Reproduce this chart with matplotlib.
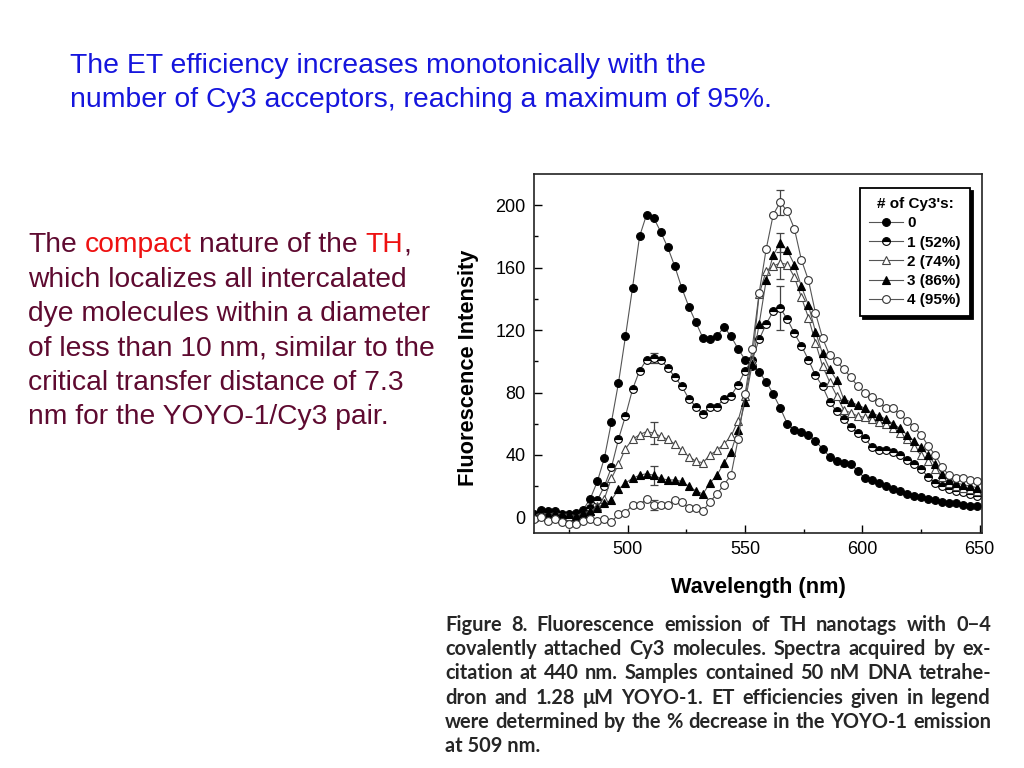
import matplotlib
matplotlib.use("Agg")
import matplotlib.pyplot as plt

# ---------------- data ----------------
wavelength = [460, 463, 466, 469, 472, 475, 478, 481, 484, 487, 490, 493, 496, 499, 502, 505,
              508, 511, 514, 517, 520, 523, 526, 529, 532, 535, 538, 541, 544, 547, 550, 553,
              556, 559, 562, 565, 568, 571, 574, 577, 580, 583, 586, 589, 592, 595, 598, 601,
              604, 607, 610, 613, 616, 619, 622, 625, 628, 631, 634, 637, 640, 643, 646, 649]

cy3_0 = [2, 5, 4, 4, 2, 1, 3, 5, 12, 23, 38, 61, 86, 116, 147, 180,
         194, 192, 183, 173, 161, 147, 135, 125, 115, 114, 116, 122, 116, 108, 101, 97,
         93, 87, 79, 70, 60, 56, 55, 53, 49, 44, 39, 36, 35, 34, 30, 25,
         24, 22, 20, 18, 17, 15, 14, 13, 12, 11, 10, 9, 9, 8, 7, 7]

cy3_1 = [1, 3, 2, 3, 1, 2, 1, 3, 6, 11, 20, 32, 50, 65, 82, 94,
         101, 102, 101, 96, 90, 84, 76, 71, 66, 71, 71, 76, 78, 85, 94, 101,
         114, 124, 132, 134, 127, 118, 110, 101, 91, 84, 74, 68, 63, 58, 54, 51,
         45, 43, 43, 42, 40, 37, 34, 31, 26, 22, 20, 18, 17, 16, 15, 14]

cy3_2 = [0, 2, 1, 2, 0, 1, 0, 2, 4, 7, 12, 25, 34, 44, 50, 53,
         55, 54, 52, 50, 47, 43, 39, 36, 35, 40, 43, 47, 52, 62, 78, 100,
         143, 158, 161, 163, 162, 154, 141, 128, 112, 97, 87, 78, 69, 67, 65, 64,
         63, 61, 60, 57, 54, 50, 45, 40, 36, 31, 26, 22, 20, 19, 18, 17]

cy3_3 = [1, 3, 2, 3, 2, 2, 1, 3, 4, 6, 9, 11, 18, 22, 25, 27,
         28, 27, 25, 24, 24, 23, 20, 17, 15, 22, 27, 35, 42, 56, 74, 98,
         124, 152, 168, 176, 171, 162, 148, 136, 119, 105, 95, 88, 76, 74, 72, 70,
         67, 65, 63, 60, 57, 53, 49, 45, 40, 34, 28, 24, 22, 21, 20, 19]

cy3_4 = [-1, 0, -2, -1, -3, -4, -4, -2, -1, -2, -1, -3, 2, 3, 8, 8,
         12, 8, 8, 8, 11, 10, 6, 6, 4, 10, 15, 21, 27, 50, 79, 108,
         144, 172, 194, 202, 196, 185, 165, 152, 131, 115, 104, 100, 95, 90, 84, 80,
         77, 74, 70, 70, 66, 62, 58, 53, 46, 40, 32, 27, 25, 25, 24, 23]

legend_labels = ["0", "1 (52%)", "2 (74%)", "3 (86%)", "4 (95%)"]

# error bars (wavelengths and +/- values per series 1..4)
err_wavelength = [511, 565]
err_1 = [3, 14]
err_2 = [7, 10]
err_3 = [6, 6]
err_4 = [3, 8]

# ---------------- figure ----------------
W, H = 1024, 768
fig = plt.figure(figsize=(W / 100, H / 100), dpi=100)
fig.patch.set_facecolor("white")
renderer = fig.canvas.get_renderer()

def fx(px):
    return px / W

def fy(py):
    return 1 - py / H

AX_L, AX_R, AX_T, AX_B = 534, 982, 174, 533
ax = fig.add_axes([fx(AX_L), fy(AX_B), (AX_R - AX_L) / W, (AX_B - AX_T) / H])

line_kw = dict(color="#555555", linewidth=0.8, markersize=5.6, markeredgewidth=0.8,
               markeredgecolor="black")

series = [
    (cy3_0, dict(marker="o", markerfacecolor="black"), None),
    (cy3_1, dict(marker="o", markerfacecolor="black", fillstyle="top",
                 markerfacecoloralt="white"), err_1),
    (cy3_2, dict(marker="^", markerfacecolor="white", markeredgecolor="#444444",
                 markersize=6.2), err_2),
    (cy3_3, dict(marker="^", markerfacecolor="black", markersize=6.2), err_3),
    (cy3_4, dict(marker="o", markerfacecolor="white", markeredgecolor="#333333"), err_4),
]

handles = []
for (vals, mk, err), lab in zip(series, legend_labels):
    kw = dict(line_kw)
    kw.update(mk)
    ln, = ax.plot(wavelength, vals, label=lab, **kw)
    handles.append(ln)
    if err is not None:
        ey = [vals[wavelength.index(w)] for w in err_wavelength]
        ax.errorbar(err_wavelength, ey, yerr=err, fmt="none", ecolor="#444444",
                    elinewidth=0.9, capsize=3, capthick=0.9, zorder=1)

ax.set_xlim(460, 651)
ax.set_ylim(-10, 220)
ax.set_xticks([500, 550, 600, 650])
ax.set_yticks([0, 40, 80, 120, 160, 200])
ax.set_xticks([475, 525, 575, 625], minor=True)
ax.set_yticks([20, 60, 100, 140, 180], minor=True)
ax.tick_params(which="major", direction="in", length=6, width=1, labelsize=13,
               pad=6, colors="black")
ax.tick_params(which="minor", direction="in", length=3, width=1)
for sp in ax.spines.values():
    sp.set_linewidth(1.2)
    sp.set_color("#222222")

ax.set_xlabel("Wavelength (nm)", fontsize=15.7, fontweight="bold",
              family="Liberation Sans")
ax.set_ylabel("Fluorescence Intensity", fontsize=15.7, fontweight="bold",
              family="Liberation Sans")
ax.xaxis.set_label_coords(0.5, -(577 - AX_B) / (AX_B - AX_T))
ax.yaxis.set_label_coords(-(AX_L - 479) / (AX_R - AX_L), 1 - (368 - AX_T) / (AX_B - AX_T))
for lab in ax.get_xticklabels() + ax.get_yticklabels():
    lab.set_family("Liberation Sans")

leg = ax.legend(handles=handles, title="# of Cy3's:", loc="upper right",
                bbox_to_anchor=((970 - AX_L) / (AX_R - AX_L), 1 - (188 - AX_T) / (AX_B - AX_T)),
                borderaxespad=0, frameon=True, fancybox=False,
                shadow={"color": "black", "alpha": 1.0},
                edgecolor="black", handlelength=2.2, handletextpad=0.3,
                labelspacing=0.34, borderpad=0.6,
                prop={"family": "Liberation Sans", "weight": "bold", "size": 11})
leg.get_frame().set_linewidth(1.3)
leg.get_title().set_fontweight("bold")
leg.get_title().set_fontsize(11)
leg.get_title().set_family("Liberation Sans")

# ---------------- slide texts ----------------
def text_width(s, **kw):
    t = fig.text(0, 0, s, **kw)
    w = t.get_window_extent(renderer=renderer).width
    t.remove()
    return w

blue = "#1515dd"
fig.text(fx(70), fy(66), "The ET efficiency increases monotonically with the",
         color=blue, fontsize=20.4, family="Liberation Sans", va="center")
fig.text(fx(70), fy(100), "number of Cy3 acceptors, reaching a maximum of 95%.",
         color=blue, fontsize=20.4, family="Liberation Sans", va="center")

maroon = "#5e0a30"
red = "#ee1111"
body_kw = dict(fontsize=20.3, family="Liberation Sans", va="center")

x0 = 28
parts = [("The", maroon), ("compact", red), ("nature of the", maroon), ("TH", red), (",", maroon)]
prefix = ""
for s, c in parts:
    full = prefix + (" " if prefix and s != "," else "") + s
    start = text_width(full, **body_kw) - text_width(s, **body_kw)
    fig.text(fx(x0 + start), fy(245), s, color=c, **body_kw)
    prefix = full

body_lines = ["which localizes all intercalated",
              "dye molecules within a diameter",
              "of less than 10 nm, similar to the",
              "critical transfer distance of 7.3",
              "nm for the YOYO-1/Cy3 pair."]
for i, s in enumerate(body_lines):
    fig.text(fx(x0), fy(280 + 34.2 * i), s, color=maroon, **body_kw)

caption = ["Figure 8. Fluorescence emission of TH nanotags with 0\u22124",
           "covalently attached Cy3 molecules. Spectra acquired by ex-",
           "citation at 440 nm. Samples contained 50 nM DNA tetrahe-",
           "dron and 1.28 \u03bcM YOYO-1. ET efficiencies given in legend",
           "were determined by the % decrease in the YOYO-1 emission",
           "at 509 nm."]
cap_kw = dict(color="#262626", fontsize=14.4, family=["Lato", "DejaVu Sans"],
              fontweight="bold", va="center")
CAP_L, CAP_R = 445, 991
space_w = text_width("a a", **cap_kw) - text_width("aa", **cap_kw)
for i, s in enumerate(caption):
    y = fy(625 + 24.2 * i)
    words = s.split(" ")
    if i == len(caption) - 1 or len(words) < 2:
        fig.text(fx(CAP_L), y, s, **cap_kw)
        continue
    widths = [text_width(w_, **cap_kw) for w_ in words]
    gap = (CAP_R - CAP_L - sum(widths)) / (len(words) - 1)
    xx = CAP_L
    for w_, wd in zip(words, widths):
        fig.text(fx(xx), y, w_, **cap_kw)
        xx += wd + gap

fig.savefig("out.png", dpi=100)
